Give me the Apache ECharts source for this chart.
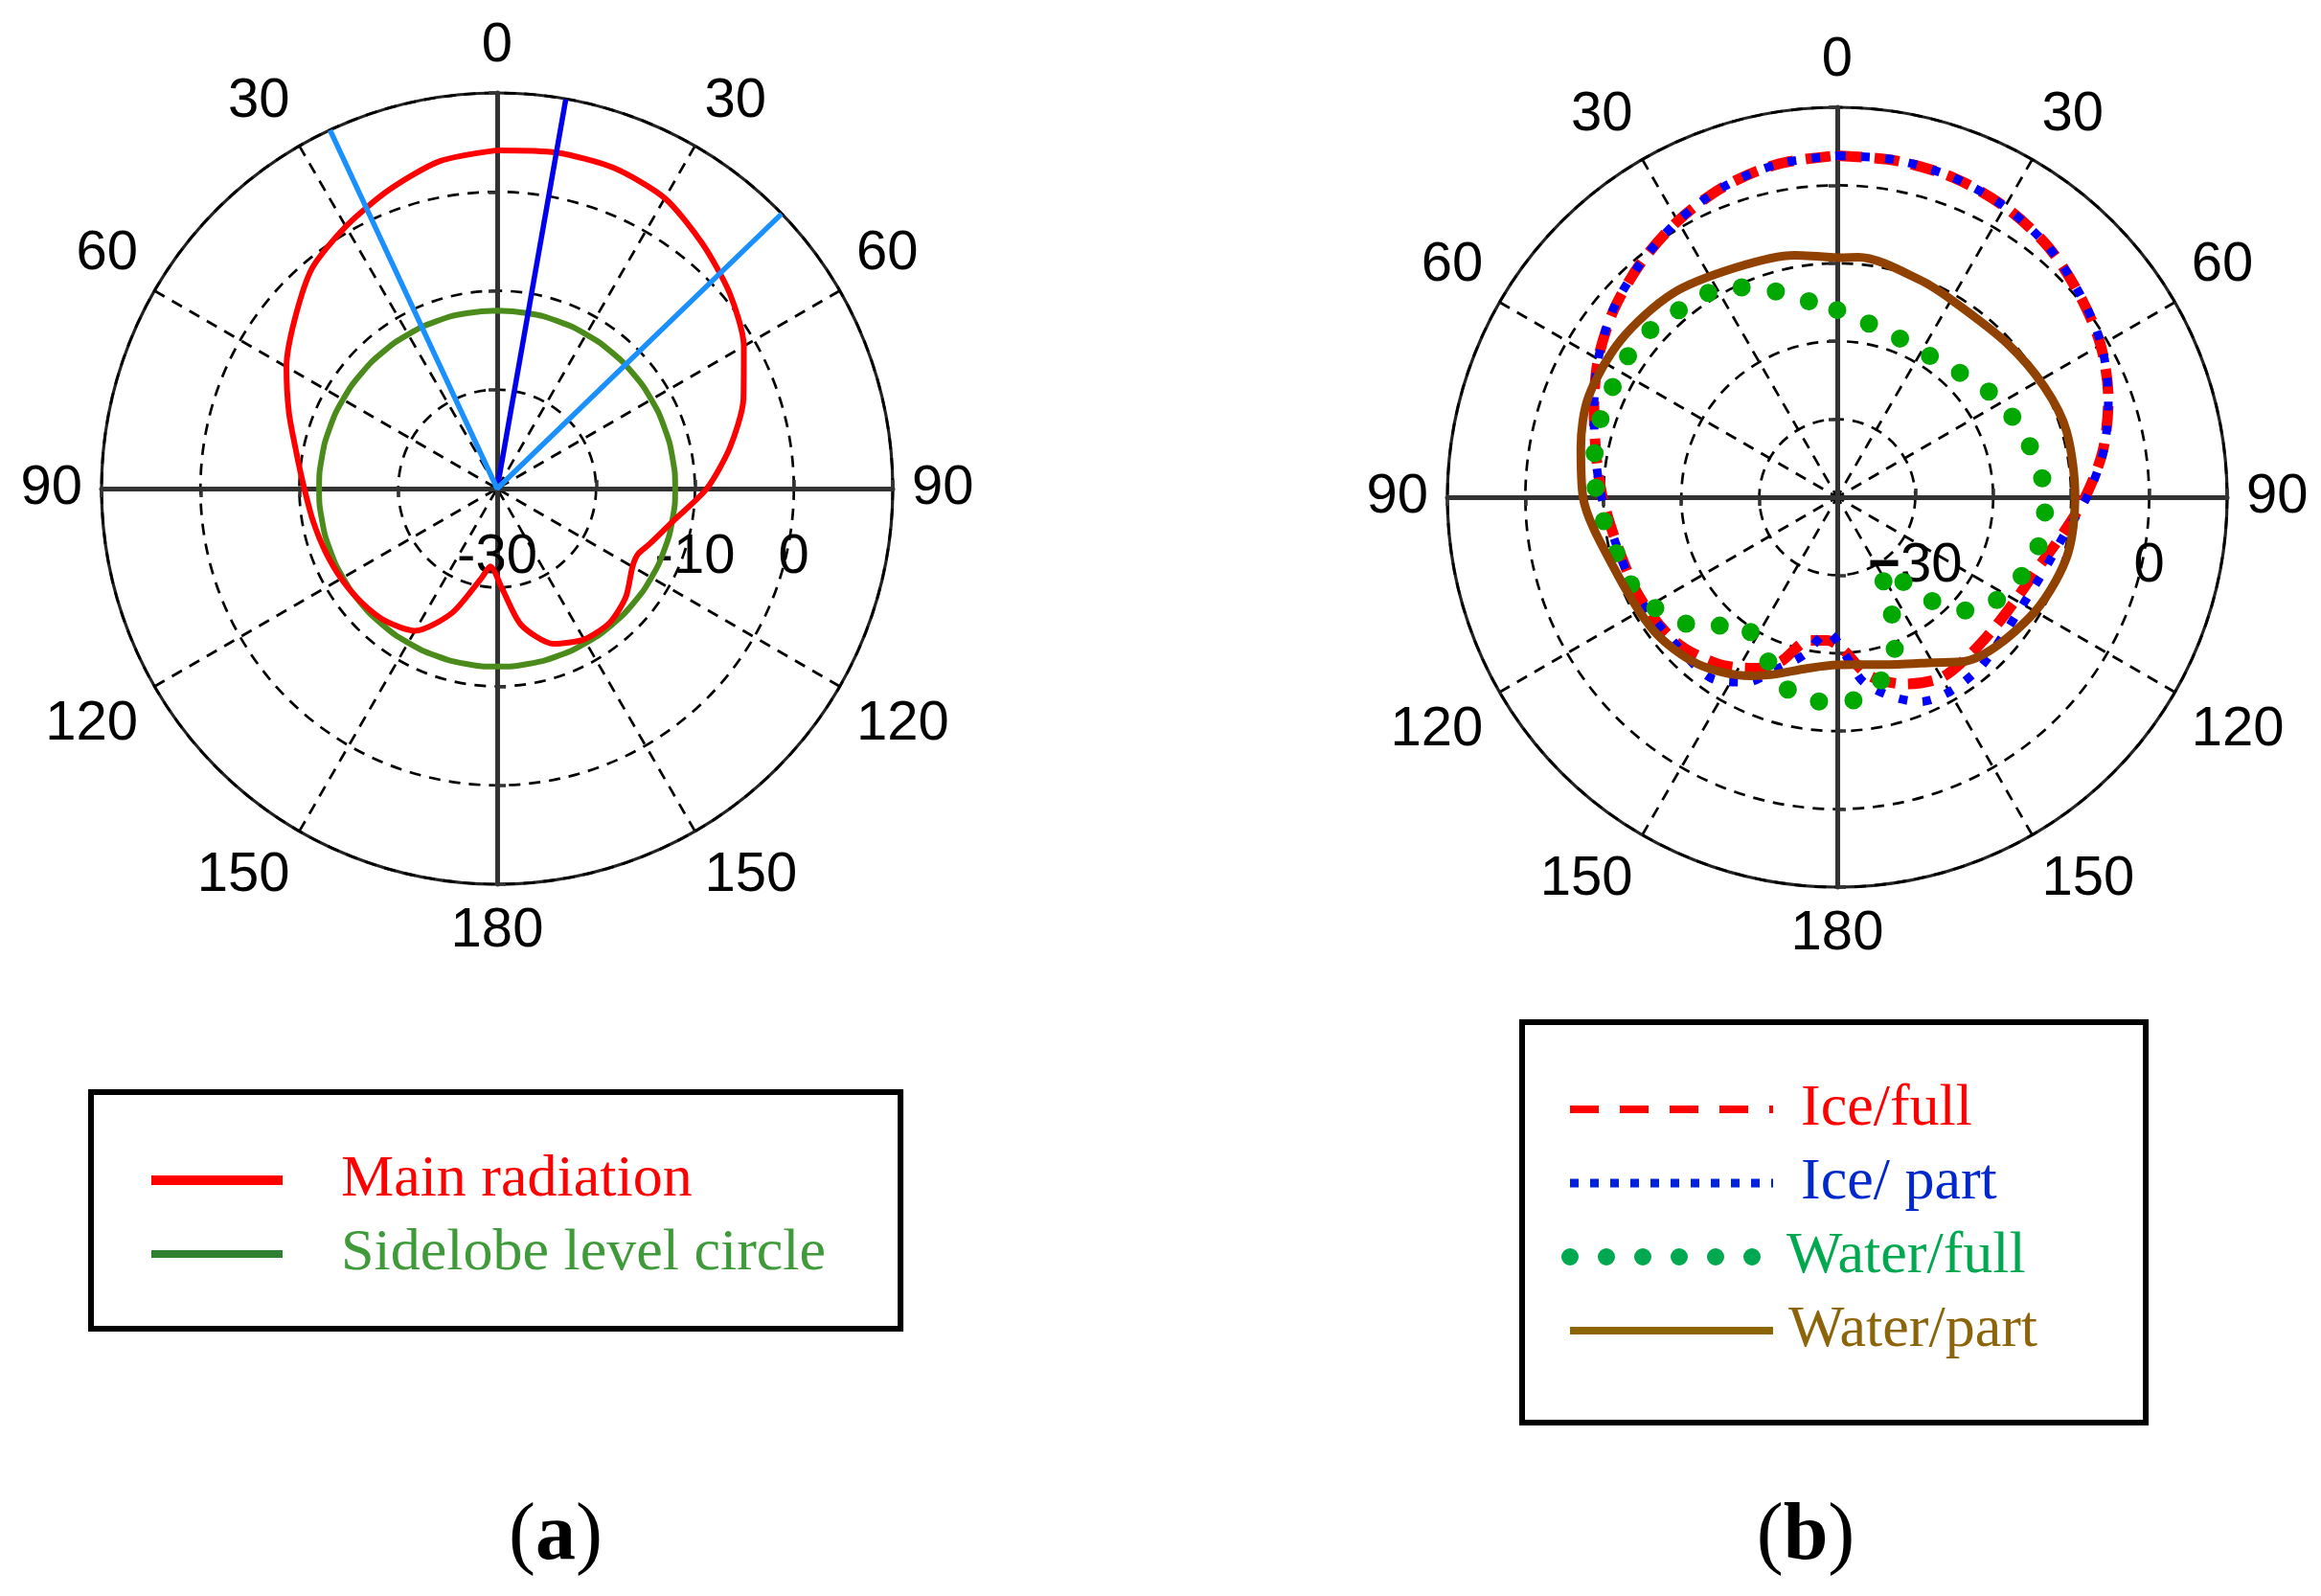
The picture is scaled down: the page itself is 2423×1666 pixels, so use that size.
<!DOCTYPE html>
<html>
<head>
<meta charset="utf-8">
<script src="https://cdn.jsdelivr.net/npm/echarts@6/dist/echarts.min.js"></script>
<style>
html,body{margin:0;padding:0;background:#ffffff;}
#c{width:2423px;height:1666px;}
</style>
</head>
<body>
<div id="c"></div>
<script>
// ---------------- tick labels ----------------
const angleTickLabels = ['0','30','60','90','120','150','180','150','120','90','60','30'];
const radialLabelsA = {'-30':'-30','-10':'-10','0':'0'};
const radialLabelsB = {'-30':'{m|\u2212}30','0':'0'};

// ---------------- chart (a) ----------------
const mainAngles = [0,10,20,30,40,50,60,70,80,90,100,110,115,120,130,140,150,160,170,177,185,190,200,210,220,230,240,250,260,270,280,290,300,310,320,330,340,350,360];
const mainValues = [4.2,4.5,4.5,3.9,2.3,0.7,-1.2,-3.5,-6.1,-8.8,-11.8,-13.6,-14.3,-14.2,-13.0,-12.3,-12.4,-13.3,-16.0,-19.8,-22.1,-20.8,-16.6,-13.4,-12.5,-12.1,-11.8,-11.5,-11.1,-10.5,-9.4,-7.6,-5.4,-3.3,-0.9,0.6,2.1,3.6,4.2];
const sidelobeLevel = -12.0;
const circleAngles = [0,10,20,30,40,50,60,70,80,90,100,110,120,130,140,150,160,170,180,190,200,210,220,230,240,250,260,270,280,290,300,310,320,330,340,350,360];
const beamAngle = 10;
const halfPowerAngles = [335, 46];

// ---------------- chart (b) ----------------
const iceFullAngles = [0,10,20,30,40,50,60,70,80,90,100,110,120,130,140,150,160,170,178,184,191,199,205,215,228,243,258,270,280,290,300,310,320,330,340,350,360];
const iceFullValues = [3.8,3.8,3.6,3.0,2.0,0.5,-1.0,-3.0,-5.4,-8.2,-10.9,-12.8,-13.6,-13.8,-13.6,-13.3,-14.5,-16.8,-20.5,-21.6,-21.3,-17.7,-15.8,-13.8,-12.2,-11.6,-11.1,-9.9,-8.6,-6.8,-4.6,-2.6,-0.8,0.9,2.4,3.4,3.8];
const icePartAngles = [0,10,20,30,40,50,60,70,80,90,100,110,120,130,140,150,158,165,172,177,184,192,200,206,214,228,243,258,270,280,290,300,310,320,330,340,350,360];
const icePartValues = [3.8,3.9,3.6,3.0,2.0,0.6,-0.9,-3.0,-5.3,-8.0,-10.6,-11.9,-12.5,-12.3,-11.5,-11.2,-11.7,-13.6,-16.1,-19.7,-22.6,-19.3,-16.4,-13.6,-11.8,-12.0,-11.5,-11.0,-9.8,-8.5,-6.8,-4.6,-2.5,-0.8,0.9,2.4,3.4,3.8];
const waterFullAngles = [0,16,27,38,48,59,69,79,90,100,109,120,130,137,142,150,154,159,167,177,187,197,206,218,226,236,244,260,271,280,289,297,306,314,322,332,341,349,360];
const waterFullValues = [-16.0,-17.8,-18.3,-18.2,-17.2,-15.8,-15.0,-14.1,-13.3,-13.3,-13.8,-15.2,-17.3,-21.5,-26.2,-28.9,-24.4,-19.4,-15.7,-13.8,-13.6,-15.1,-18.1,-19.5,-15.9,-13.4,-11.5,-10.4,-9.1,-8.4,-8.0,-7.9,-7.6,-8.0,-8.8,-9.5,-11.8,-14.0,-16.0];
const waterPartAngles = [0,5,21,31,48,62,74,90,105,122,142,150,160,170,180,190,200,206,220,234,253,270,281,292,306,321,336,350,360];
const waterPartValues = [-9.3,-9.1,-10.2,-10.8,-10.6,-9.9,-9.4,-9.5,-9.6,-10.9,-13.3,-15.5,-17.2,-18.2,-18.5,-17.7,-15.8,-14.5,-12.1,-10.9,-9.9,-7.4,-6.5,-5.6,-5.7,-6.4,-7.8,-8.5,-9.3];

// ---------------- layout ----------------
const LABEL_FONT = 'Liberation Sans';
const SERIF = 'Liberation Serif';
const polars = [
  {center:[519,510], radius:413, rmin:-30, rmax:10, labels: radialLabelsA},
  {center:[1918,519], radius:407, rmin:-40, rmax:10, labels: radialLabelsB}
];
const starts = [90, 0, 180, 270];
const gridDash = {color:'#000', width:2.7, type:[12,9]};

const polarList = [], angleAxes = [], radiusAxes = [];
polars.forEach(function(p, pi){
  starts.forEach(function(sa, k){
    const idx = pi*4 + k;
    polarList.push({center:p.center, radius:p.radius});
    if (k === 0) {
      angleAxes.push({
        polarIndex: idx, type:'value', min:0, max:360, interval:30,
        startAngle: sa, clockwise:true,
        axisLine:{show:true, lineStyle:{color:'#222', width:3.2}},
        axisTick:{show:false},
        axisLabel:{show:true, margin:20, color:'#000', fontSize:58, fontFamily:LABEL_FONT,
          formatter:function(v){ return v >= 360 ? '' : angleTickLabels[Math.round(v/30)]; }},
        splitLine:{show:true, lineStyle:gridDash},
        z: 0
      });
    } else {
      angleAxes.push({polarIndex: idx, type:'value', min:0, max:360, interval:30, startAngle: sa, clockwise:true, show:false});
    }
    radiusAxes.push({
      polarIndex: idx, type:'value', min:p.rmin, max:p.rmax, interval:10,
      axisLine:{show:true, lineStyle:{color:'#333', width:5}},
      axisTick:{show:true, length:9, lineStyle:{color:'#333', width:3.5}},
      splitLine:{show:k===0, lineStyle:gridDash},
      axisLabel: (k === 1) ? {
        show:true, margin:-72, align:'center', verticalAlign:'middle',
        color:'#000', fontSize:58, fontFamily:LABEL_FONT,
        rich:{m:{fontWeight:'bold', fontSize:58, fontFamily:LABEL_FONT, color:'#000'}},
        formatter:function(v){ const s = p.labels[String(v)]; return s === undefined ? '' : s; }
      } : {show:false},
      z: 1
    });
  });
});

function pairs(angles, values){ return angles.map(function(a,i){ return [values[i], a]; }); }

const series = [
  // (a)
  {type:'line', name:'Sidelobe level circle', coordinateSystem:'polar', polarIndex:0,
   data: circleAngles.map(function(a){ return [sidelobeLevel, a]; }),
   symbol:'none', smooth:true, lineStyle:{color:'#4b8b1b', width:6}, itemStyle:{color:'#4b8b1b'}, z:3},
  {type:'line', name:'Main radiation', coordinateSystem:'polar', polarIndex:0,
   data: pairs(mainAngles, mainValues),
   symbol:'none', smooth:0.25, lineStyle:{color:'#ff0000', width:6}, itemStyle:{color:'#ff0000'}, z:4},
  {type:'line', name:'beam', coordinateSystem:'polar', polarIndex:0,
   data: [[polars[0].rmin, beamAngle], [polars[0].rmax, beamAngle]],
   symbol:'none', lineStyle:{color:'#0000ee', width:5.5}, z:5},
  {type:'line', name:'half-power', coordinateSystem:'polar', polarIndex:0,
   data: [[polars[0].rmax, halfPowerAngles[0]], [polars[0].rmin, halfPowerAngles[0]], [polars[0].rmax, halfPowerAngles[1]]],
   symbol:'none', lineStyle:{color:'#1a90ff', width:5.5}, z:5},
  // (b)
  {type:'line', name:'Ice/full', coordinateSystem:'polar', polarIndex:4,
   data: pairs(iceFullAngles, iceFullValues),
   symbol:'none', smooth:0.3, lineStyle:{color:'#ff0000', width:11, type:[26,13]}, itemStyle:{color:'#ff0000'}, z:3},
  {type:'line', name:'Ice/ part', coordinateSystem:'polar', polarIndex:4,
   data: pairs(icePartAngles, icePartValues),
   symbol:'none', smooth:0.3, lineStyle:{color:'#0000ff', width:9, type:[9,16]}, itemStyle:{color:'#0000ff'}, z:4},
  {type:'line', name:'Water/full', coordinateSystem:'polar', polarIndex:4,
   data: pairs(waterFullAngles, waterFullValues),
   symbol:'none', smooth:0.3, lineStyle:{color:'#00a800', width:19, type:[0,36], cap:'round'}, itemStyle:{color:'#00a800'}, z:5},
  {type:'line', name:'Water/part', coordinateSystem:'polar', polarIndex:4,
   data: pairs(waterPartAngles, waterPartValues),
   symbol:'none', smooth:0.3, lineStyle:{color:'#914100', width:9}, itemStyle:{color:'#914100'}, z:6}
];

const legendText = {fontFamily:SERIF, fontSize:62, lineHeight:70};
const legends = [
  {
    left:95, top:1140, orient:'vertical', padding:[57,78,43,58],
    itemWidth:137, itemHeight:14, itemGap:7, selectedMode:false,
    borderColor:'#000', borderWidth:6, backgroundColor:'#fff',
    textStyle: Object.assign({padding:[0,0,0,56]}, legendText),
    data:[
      {name:'Main radiation', textStyle:{color:'#ff0000'}, itemStyle:{opacity:0},
       lineStyle:{color:'#ff0000', width:10, type:'solid'}},
      {name:'Sidelobe level circle', textStyle:{color:'#3f9a3a'}, itemStyle:{opacity:0},
       lineStyle:{color:'#2f8030', width:8, type:'solid'}}
    ]
  },
  {
    left:1589, top:1067, orient:'vertical', padding:[56,113,61,41],
    itemWidth:212, itemHeight:14, itemGap:7, selectedMode:false,
    borderColor:'#000', borderWidth:6, backgroundColor:'#fff',
    textStyle: Object.assign({padding:[0,0,0,24]}, legendText),
    data:[
      {name:'Ice/full', textStyle:{color:'#ff0000', padding:[0,0,0,24]}, itemStyle:{opacity:0},
       lineStyle:{color:'#ff0000', width:8, type:[30,22]}},
      {name:'Ice/ part', textStyle:{color:'#0028cc', padding:[0,0,0,24]}, itemStyle:{opacity:0},
       lineStyle:{color:'#0022dd', width:9, type:[9,12]}},
      {name:'Water/full', textStyle:{color:'#00a850', padding:[0,0,0,9]}, itemStyle:{opacity:0},
       lineStyle:{color:'#00a850', width:18, type:[0,38], cap:'round'}},
      {name:'Water/part', textStyle:{color:'#8c640a', padding:[0,0,0,11]}, itemStyle:{opacity:0},
       lineStyle:{color:'#8c6400', width:8, type:'solid'}}
    ]
  }
];

const captionRich = {
  p:{fontFamily:SERIF, fontSize:84, fontWeight:'normal', color:'#000'},
  b:{fontFamily:SERIF, fontSize:84, fontWeight:'bold', color:'#000'}
};
const titles = [
  {text:'{p|(}{b|a}{p|)}', left:580, top:1605, textAlign:'center', textVerticalAlign:'middle', padding:0, textStyle:{fontWeight:'normal', rich:captionRich}},
  {text:'{p|(}{b|b}{p|)}', left:1885, top:1605, textAlign:'center', textVerticalAlign:'middle', padding:0, textStyle:{fontWeight:'normal', rich:captionRich}}
];

const chart = echarts.init(document.getElementById('c'));
chart.setOption({
  backgroundColor:'#ffffff',
  animation:false,
  title: titles,
  legend: legends,
  polar: polarList,
  angleAxis: angleAxes,
  radiusAxis: radiusAxes,
  series: series
});
</script>
</body>
</html>
